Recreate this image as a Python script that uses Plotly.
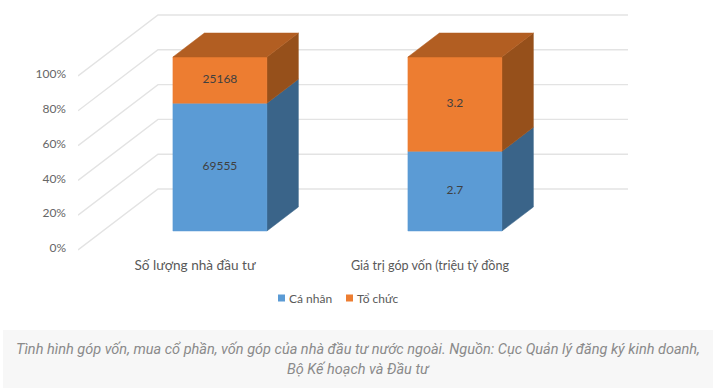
import plotly.graph_objects as go

categories = ["Số lượng nhà đầu tư", "Giá trị góp vốn (triệu tỷ đồng"]
series_names = ["Cá nhân", "Tổ chức"]
ca_nhan = [69555, 2.7]
to_chuc = [25168, 3.2]
value_text_ca_nhan = ["69555", "2.7"]
value_text_to_chuc = ["25168", "3.2"]
pct_ticks = [0, 20, 40, 60, 80, 100]
pct_labels = ["0%", "20%", "40%", "60%", "80%", "100%"]
caption_lines = [
    "Tình hình góp vốn, mua cổ phần, vốn góp của nhà đầu tư nước ngoài. Nguồn: Cục Quản lý đăng ký kinh doanh,",
    "Bộ Kế hoạch và Đầu tư",
]

# canvas geometry
W, H = 713, 392
L, R, T, B = 78, 640, 0, 256
PX_PER_CAT = 235.0
PX_PER_PCT = 1.74
X_MIN = (L - 195) / PX_PER_CAT
X_MAX = (R - 195) / PX_PER_CAT
Y_MIN = (250 - B) / PX_PER_PCT
Y_MAX = (250 - T) / PX_PER_PCT

# oblique projection of the 3-D box: depth 0 = front of floor, 1 = back wall
DX = 80 / PX_PER_CAT
DY = 61 / PX_PER_PCT
BAR_FRONT, BAR_BACK = 19 / 61, 43 / 61
HALF_W = 47 / PX_PER_CAT


def proj(x, y, d):
    return x + DX * d, y + DY * d


def poly(points, color):
    xs, ys = zip(*[proj(*p) for p in points])
    return go.Scatter(x=list(xs) + [xs[0]], y=list(ys) + [ys[0]], mode="lines", fill="toself",
                      fillcolor=color, line=dict(color=color, width=0.5), hoverinfo="skip",
                      showlegend=False, cliponaxis=False)


fig = go.Figure()

# wall / floor gridlines
for p in pct_ticks:
    ax, ay = proj(X_MIN, p, 0)
    bx, by = proj(X_MIN, p, 1)
    fig.add_trace(go.Scatter(x=[ax, bx, (628 - 195) / PX_PER_CAT], y=[ay, by, by], mode="lines",
                             line=dict(color="#e3e3e3", width=1.4), hoverinfo="skip",
                             showlegend=False, cliponaxis=False))

BLUE = ("#5B9BD5", "#3A6489")
ORANGE = ("#ED7D31", "#96501B")
TOP = "#B25E22"

label_x, label_y, label_text = [], [], []
for i in range(len(categories)):
    total = ca_nhan[i] + to_chuc[i]
    split = ca_nhan[i] / total * 100
    l, r = i - HALF_W, i + HALF_W
    for y0, y1, col in ((0, split, BLUE), (split, 100, ORANGE)):
        fig.add_trace(poly([(r, y0, BAR_FRONT), (r, y0, BAR_BACK), (r, y1, BAR_BACK), (r, y1, BAR_FRONT)], col[1]))
        fig.add_trace(poly([(l, y0, BAR_FRONT), (r, y0, BAR_FRONT), (r, y1, BAR_FRONT), (l, y1, BAR_FRONT)], col[0]))
    fig.add_trace(poly([(l, 100, BAR_FRONT), (r, 100, BAR_FRONT), (r, 100, BAR_BACK), (l, 100, BAR_BACK)], TOP))
    for y0, y1, t in ((0, split, value_text_ca_nhan[i]), (split, 100, value_text_to_chuc[i])):
        px, py = proj(i, (y0 + y1) / 2, BAR_FRONT)
        label_x.append(px)
        label_y.append(py)
        label_text.append(t)

fig.add_trace(go.Scatter(x=label_x, y=label_y, text=label_text, mode="text", textposition="middle center",
                         textfont=dict(family="Lato", size=12, color="#404040"), hoverinfo="skip",
                         showlegend=False, cliponaxis=False))


def paper_x(px):
    return (px - L) / (R - L)


def paper_y(py):
    return (B - py) / (B - T)


# legend: compact swatches with text beside them
for name, col, sx in zip(series_names, (BLUE[0], ORANGE[0]), (278, 346)):
    fig.add_shape(type="rect", xref="paper", yref="paper", x0=paper_x(sx), x1=paper_x(sx + 7),
                  y0=paper_y(301.5), y1=paper_y(294.5), fillcolor=col, line_width=0)
    fig.add_annotation(xref="paper", yref="paper", x=paper_x(sx + 9), y=paper_y(298), text=name, showarrow=False,
                       xanchor="left", yanchor="middle", font=dict(family="Lato", size=12, color="#595959"))

# caption band
fig.add_shape(type="rect", xref="paper", yref="paper", x0=paper_x(3), x1=paper_x(713),
              y0=paper_y(388), y1=paper_y(330), fillcolor="#f7f7f7", line_width=0, layer="below")
for text, py in zip(caption_lines, (349, 369)):
    fig.add_annotation(xref="paper", yref="paper", x=paper_x(358), y=paper_y(py), text=text, showarrow=False,
                       xanchor="center", yanchor="middle",
                       font=dict(family="Roboto", size=14.5, color="#8a8a8a", style="italic"))

tick_text = [f'<span style="font-size:13.6px">{categories[0]}</span>',
             f'<span style="font-size:12.6px">{categories[1]}</span>']

fig.update_layout(
    width=W, height=H, autosize=False,
    margin=dict(l=L, r=W - R, t=T, b=H - B, pad=0),
    paper_bgcolor="white", plot_bgcolor="white",
    font=dict(family="Lato", color="#595959"),
    showlegend=False,
    xaxis=dict(range=[X_MIN, X_MAX], tickmode="array", tickvals=list(range(len(categories))), ticktext=tick_text,
               showgrid=False, zeroline=False, showline=False, ticks="", ticklabelstandoff=1,
               tickfont=dict(family="Lato", size=12, color="#595959")),
    yaxis=dict(range=[Y_MIN, Y_MAX], tickmode="array", tickvals=pct_ticks, ticktext=pct_labels,
               showgrid=False, zeroline=False, showline=False, ticks="", ticklabelstandoff=11,
               ticklabelshift=-2,
               tickfont=dict(family="Lato", size=12, color="#666666")),
)

fig.write_html("out.html", config={"displayModeBar": False}, post_script="document.body.style.margin='0';")
